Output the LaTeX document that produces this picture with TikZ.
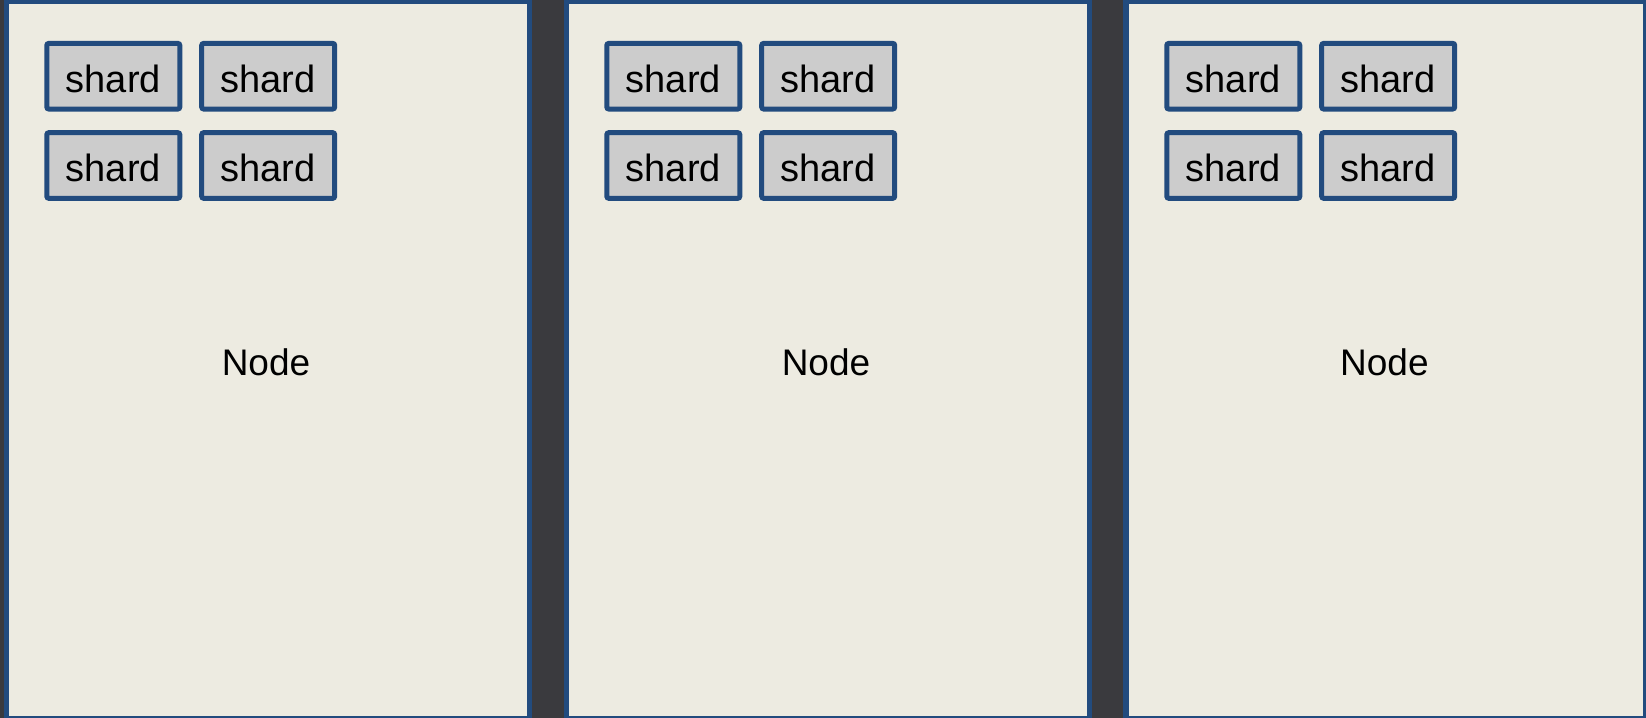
\documentclass[tikz,border=0pt]{standalone}
\usepackage{fontspec}
\setmainfont{Liberation Sans}
\definecolor{bgdark}{RGB}{58,58,62}
\definecolor{edgeblue}{RGB}{34,75,126}
\definecolor{panelfill}{RGB}{237,235,225}
\definecolor{shardfill}{RGB}{204,204,204}
\tikzset{
  panelbox/.style={draw=edgeblue, fill=panelfill, line width=2.65pt, minimum width=261.5pt, minimum height=358.4pt, inner sep=0pt, text height=16pt, text depth=0pt, font=\fontsize{18.5}{22}\selectfont},
  shardbox/.style={draw=edgeblue, fill=shardfill, line width=2.5pt, rounded corners=1pt, minimum width=66.5pt, minimum height=32.8pt, inner sep=0pt, text height=16pt, text depth=0pt, font=\fontsize{19}{22}\selectfont}
}
\begin{document}
\begin{tikzpicture}[x=0.5pt,y=-0.5pt]
\useasboundingbox (0,0) rectangle (1646,718);
\fill[bgdark] (0,0) rectangle (1646,718);
\node[panelbox] (p1) at (267.7,359.9) {Node\kern1.7pt};
\node[panelbox] (p2) at (827.7,359.9) {Node\kern1.7pt};
\node[panelbox, minimum width=260pt] (p3) at (1386.1,359.9) {Node\kern1.7pt};
\foreach \i/\dx in {1/0,2/560,3/1120}{
  \node[shardbox] (s\i a) at (113.3+\dx,76.2) {shard};
  \node[shardbox] (s\i b) at (268.2+\dx,76.2) {shard};
  \node[shardbox] (s\i c) at (113.3+\dx,165.5) {shard};
  \node[shardbox] (s\i d) at (268.2+\dx,165.5) {shard};
}
\end{tikzpicture}
\end{document}
